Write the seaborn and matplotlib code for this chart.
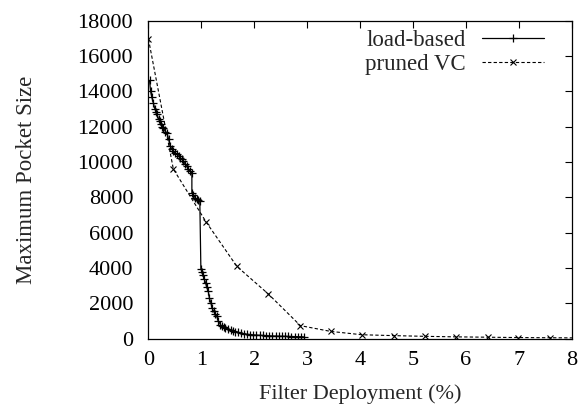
import matplotlib
matplotlib.use("Agg")
import matplotlib.pyplot as plt
import seaborn as sns
import pandas as pd

# Data
load_x = [0.02, 0.04, 0.06, 0.09, 0.12, 0.14, 0.16, 0.19, 0.21, 0.23, 0.26, 0.28,
          0.32, 0.35, 0.38, 0.41, 0.44, 0.47, 0.50, 0.54, 0.57, 0.60, 0.63, 0.66,
          0.69, 0.72, 0.75, 0.79, 0.82, 0.82, 0.85, 0.88, 0.91, 0.94, 0.97, 0.99,
          1.01, 1.03, 1.05, 1.08, 1.10, 1.13, 1.15, 1.18, 1.20, 1.23, 1.26, 1.29,
          1.32, 1.36, 1.39, 1.42, 1.45, 1.50, 1.55, 1.60, 1.64, 1.69, 1.74, 1.80,
          1.86, 1.92, 1.98, 2.04, 2.10, 2.16, 2.22, 2.28, 2.34, 2.40, 2.46, 2.52,
          2.58, 2.64, 2.70, 2.76, 2.82, 2.88, 2.93]
load_y = [14620, 14000, 13700, 13360, 13020, 12850, 12700, 12450, 12300, 12130, 12000, 11940,
          11720, 11650, 11300, 10900, 10750, 10620, 10500, 10430, 10330, 10240, 10150, 10050,
          9900, 9770, 9620, 9480, 9400, 8260, 8150, 7980, 7900, 7850, 7790, 3950,
          3800, 3630, 3400, 3160, 2900, 2680, 2300, 2020, 1750, 1550, 1400, 1260,
          1000, 790, 700, 660, 600, 550, 480, 450, 400, 360, 320, 280,
          250, 230, 215, 200, 190, 180, 170, 160, 150, 145, 140, 135,
          130, 125, 120, 115, 110, 105, 100]

pruned_x = [0.0, 0.47, 1.09, 1.67, 2.26, 2.87, 3.44, 4.03, 4.63, 5.22, 5.81, 6.41, 6.99, 7.59, 8.18]
pruned_y = [16960, 9600, 6600, 4090, 2540, 735, 410, 220, 170, 130, 100, 80, 60, 50, 40]

x_ticks = [0, 1, 2, 3, 4, 5, 6, 7, 8]
y_ticks = [0, 2000, 4000, 6000, 8000, 10000, 12000, 14000, 16000, 18000]

sns.set_theme(style="white")
plt.rcParams['font.family'] = ['Liberation Serif', 'DejaVu Serif']

fig = plt.figure(figsize=(5.8, 4.07), dpi=100)
ax = fig.add_axes([0.256, 0.168, 0.73, 0.781])

df_load = pd.DataFrame({"x": load_x, "y": load_y})
df_pruned = pd.DataFrame({"x": pruned_x, "y": pruned_y})

sns.lineplot(data=df_load, x="x", y="y", ax=ax, sort=False, estimator=None,
             color="black", linewidth=0.9, marker="+", markersize=6,
             markeredgewidth=0.9, markeredgecolor="black", label="load-based")
sns.lineplot(data=df_pruned, x="x", y="y", ax=ax, sort=False, estimator=None,
             color="black", linewidth=0.8, linestyle=(0, (3, 2)), marker="x",
             markersize=5, markeredgewidth=0.8, markeredgecolor="black",
             label="pruned VC")

ax.set_xlim(0, 8)
ax.set_ylim(0, 18000)
ax.set_xticks(x_ticks)
ax.set_yticks(y_ticks)
ax.set_xticklabels([str(v) for v in x_ticks])
ax.set_yticklabels([str(v) for v in y_ticks])
ax.tick_params(direction="in", length=5, width=0.8, top=True, right=True,
               labelsize=16, colors="black", pad=9)
ax.tick_params(axis="y", pad=11)
for s in ax.spines.values():
    s.set_color("black")
    s.set_linewidth(0.9)

ax.set_xlabel("Filter Deployment (%)", fontsize=16, labelpad=10)
ax.set_ylabel("Maximum Pocket Size", fontsize=16.5, labelpad=29)

leg = ax.legend(loc="upper right", frameon=False, fontsize=16.5, markerfirst=False,
                handlelength=2.7, handletextpad=0.7, labelspacing=0.12,
                borderaxespad=0.2, borderpad=0.2,
                bbox_to_anchor=(0.955, 1.0))

fig.savefig("out.png", dpi=100)
